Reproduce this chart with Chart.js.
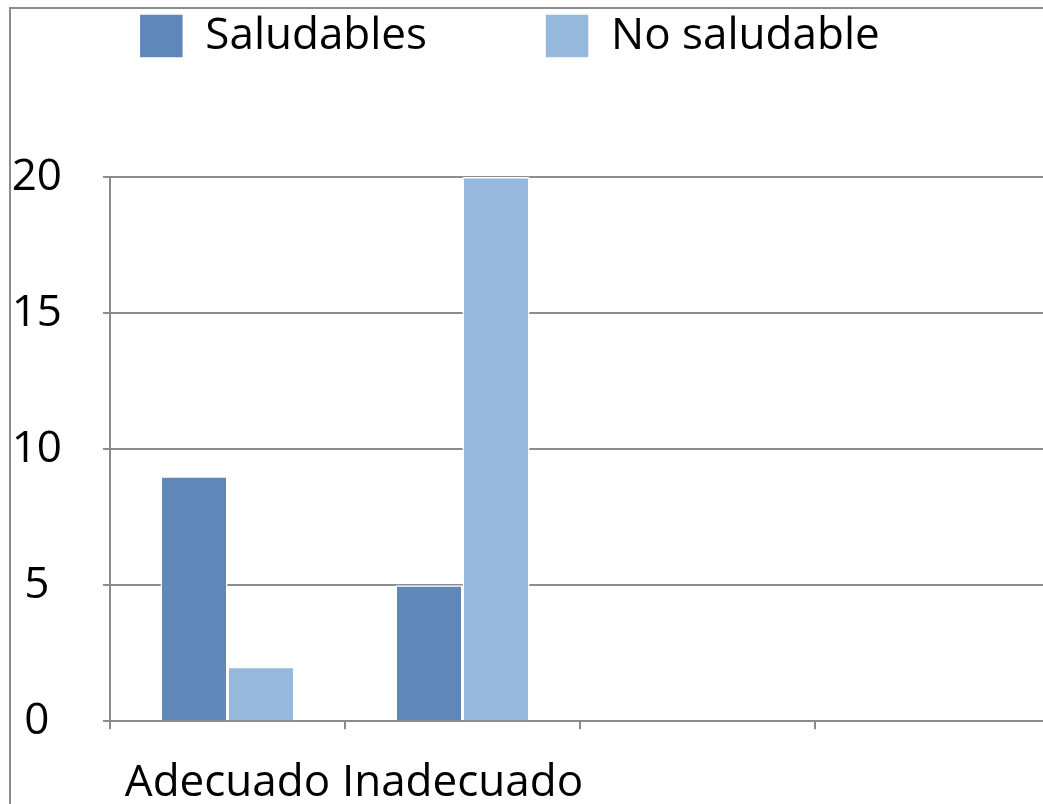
<!DOCTYPE html>
<html>
<head>
<meta charset="utf-8">
<script src="https://cdn.jsdelivr.net/npm/chart.js@4.4.1/dist/chart.umd.min.js"></script>
<style>
  html, body { margin: 0; padding: 0; background: #fff; overflow: hidden; }
  #caja { position: relative; width: 1062px; height: 804px; }
  #marco { position: absolute; left: 9px; top: 7px; width: 1200px; height: 900px;
           border: 2px solid #8c8c8c; pointer-events: none; }
</style>
</head>
<body>
<div id="caja">
  <div id="marco"></div>
  <canvas id="grafico"></canvas>
</div>
<script>
// categorias del eje x (las dos ultimas vienen vacias en el original)
var categorias = ['Adecuado', 'Inadecuado', '', ''];

// valores de cada serie
var saludables = [9, 5, null, null];
var noSaludable = [2, 20, null, null];

// marcas del eje y
var ticksY = [0, 5, 10, 15, 20];

var gris = '#8c8c8c';
var fuente = '"Open Sans", sans-serif';

new Chart(document.getElementById('grafico'), {
    type: 'bar',
    data: {
        labels: categorias,
        datasets: [
            { label: 'Saludables', data: saludables, backgroundColor: '#5f87b8', borderColor: '#ffffff', borderWidth: 1.5 },
            { label: 'No saludable', data: noSaludable, backgroundColor: '#95b8dc', borderColor: '#ffffff', borderWidth: 1.5 }
        ]
    },
    options: {
        responsive: true,
        maintainAspectRatio: false,
        animation: false,
        categoryPercentage: 0.57,
        barPercentage: 1,
        // el padding negativo sube la leyenda
        layout: { padding: { top: -104, left: -31, right: 12, bottom: -34 } },
        plugins: {
            tooltip: { enabled: false },
            legend: {
                labels: {
                    boxWidth: 44,
                    boxHeight: 44,
                    padding: 118,
                    color: '#000',
                    font: { family: fuente, size: 44 }
                }
            },
            // titulo vacio, solo deja el espacio entre la leyenda y el grafico
            title: {
                display: true,
                text: '',
                weight: 500,
                font: { size: 10 },
                padding: { top: 0, bottom: 97 }
            }
        },
        scales: {
            x: {
                grid: { display: true, drawOnChartArea: false, drawTicks: true, tickLength: 8, color: gris, lineWidth: 2 },
                border: { color: gris, width: 2 },
                ticks: { color: '#000', padding: 28, maxRotation: 0, autoSkip: false, font: { family: fuente, size: 44 } }
            },
            y: {
                min: 0,
                max: 20,
                // ancho fijo: el eje queda en x = 110
                afterFit: function (escala) { escala.width = 141; },
                afterBuildTicks: function (escala) {
                    escala.ticks = ticksY.map(function (v) { return { value: v }; });
                },
                grid: { color: gris, lineWidth: 2, tickLength: 7 },
                border: { color: gris, width: 2 },
                ticks: { color: '#000', padding: 41, crossAlign: 'center', font: { family: fuente, size: 44 } }
            }
        }
    }
});
</script>
</body>
</html>
